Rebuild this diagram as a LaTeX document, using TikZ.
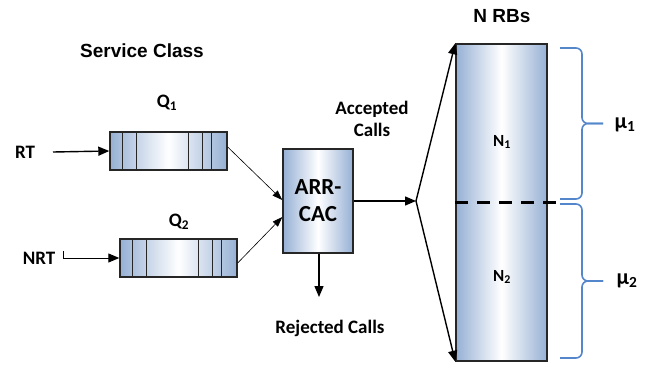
\documentclass[tikz,border=0pt]{standalone}
\usepackage{fontspec}
\setmainfont{Carlito}
\newfontfamily\headfont{Liberation Sans}
\usetikzlibrary{arrows.meta}
\definecolor{rbblue}{RGB}{150,176,212}
\definecolor{bracecol}{RGB}{84,134,204}
\begin{document}
\begin{tikzpicture}[x=1pt,y=-1pt,
  font=\bfseries\fontsize{19}{22}\selectfont,
  box/.style={draw=black!85,line width=1.4pt,shade,left color=rbblue,right color=rbblue,middle color=white,inner sep=0pt},
  cell/.style={draw=black!85,line width=1.4pt},
  fat/.style={line width=1.4pt,-{Triangle[length=11pt,width=9pt]}},
  thin/.style={line width=0.6pt,-{Triangle[length=10pt,width=7pt]}},
  brace/.style={draw=bracecol,line width=1.6pt,rounded corners=6pt},
  head/.style={font=\headfont\bfseries\fontsize{19}{22}\selectfont}]
\useasboundingbox (0,0) rectangle (654,369);
% queues
\node[box,minimum width=117pt,minimum height=38pt] (q1) at (168.5,151) {};
\node[box,minimum width=117pt,minimum height=38pt] (q2) at (178.5,258) {};
\foreach \k in {13,27,79,93,102}{
  \draw[cell] ([xshift=\k pt]q1.south west) -- ([xshift=\k pt]q1.north west);
  \draw[cell] ([xshift=\k pt]q2.south west) -- ([xshift=\k pt]q2.north west);
}
\node[head] (svc) at (142,51) {Service Class};
\node (lq1) at (167,103) {Q\textsubscript{1}};
\node (lq2) at (179,222) {Q\textsubscript{2}};
\node (rt) at (25,152) {RT};
\node (nrt) at (39,258) {NRT};
\coordinate (rtin) at (53,152);
\coordinate (nrtin) at (63,251);
\draw[fat] (rtin) -- (q1.west);
\draw[fat,line width=1pt] (nrtin) |- (q2.west);
% admission control
\node[box,minimum width=70pt,minimum height=104pt,align=center,font=\bfseries\fontsize{23}{27}\selectfont] (cac) at (318,201) {ARR-\\CAC};
\draw[thin] ([yshift=4pt]q1.east) -- ([yshift=1pt]cac.west);
\draw[thin] ([yshift=-5pt]q2.east) -- ([yshift=-16pt]cac.west);
\coordinate (fork) at (416,201);
\coordinate (rej) at (319,297);
\draw[fat] (cac.east) -- (fork);
\draw[fat] ([xshift=1pt]cac.south) -- (rej);
\node[align=center] (acc) at (372,119) {Accepted\\Calls};
\node (rjc) at (330,328) {Rejected Calls};
% resource blocks
\node[box,minimum width=91pt,minimum height=317pt] (rb) at (501.5,202.5) {};
\node[head] (nrb) at (502,16) {N RBs};
\draw[fat] (fork) -- (rb.north west);
\draw[fat] (fork) -- (rb.south west);
\draw[line width=2.6pt,dash pattern=on 13pt off 9pt] (rb.west) -- ++(102,0);
\node[font=\bfseries\fontsize{17}{20}\selectfont] (n1) at (502,142) {N\textsubscript{1}};
\node[font=\bfseries\fontsize{17}{20}\selectfont] (n2) at (502,277) {N\textsubscript{2}};
% braces
\draw[brace] (560,48) -- (582,48) -- (582,123.5) -- (603,123.5);
\draw[brace] (560,199) -- (582,199) -- (582,123.5) -- (603,123.5);
\draw[brace] (560,204) -- (582,204) -- (582,281) -- (603,281);
\draw[brace] (560,358) -- (582,358) -- (582,281) -- (603,281);
\node[font=\bfseries\fontsize{22}{26}\selectfont] (mu1) at (625,125) {μ\textsubscript{1}};
\node[font=\bfseries\fontsize{22}{26}\selectfont] (mu2) at (627,281) {μ\textsubscript{2}};
\end{tikzpicture}
\end{document}
